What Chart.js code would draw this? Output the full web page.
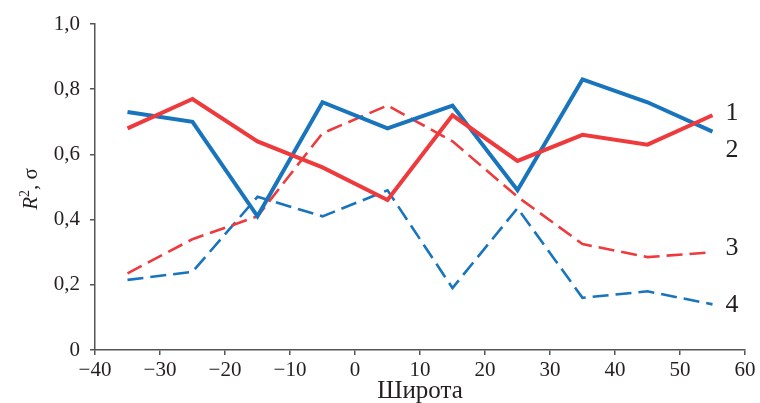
<!DOCTYPE html>
<html>
<head>
<meta charset="utf-8">
<script src="https://cdn.jsdelivr.net/npm/chart.js@4/dist/chart.umd.min.js"></script>
<style>
  html, body { margin: 0; padding: 0; background: #fff; }
  #wrap { width: 760px; height: 403px; }
</style>
</head>
<body>
<div id="wrap"><canvas id="myChart" width="760" height="403"></canvas></div>
<script>
// latitude of each point
const latitudes = [-35, -25, -15, -5, 5, 15, 25, 35, 45, 55];

// 1 - red solid, 2 - blue solid, 3 - red dashed, 4 - blue dashed
const series1 = [0.68, 0.77, 0.64, 0.56, 0.46, 0.72, 0.58, 0.66, 0.63, 0.72];
const series2 = [0.73, 0.70, 0.41, 0.76, 0.68, 0.75, 0.49, 0.83, 0.76, 0.67];
const series3 = [0.235, 0.34, 0.41, 0.665, 0.75, 0.64, 0.47, 0.325, 0.285, 0.30];
const series4 = [0.215, 0.24, 0.47, 0.41, 0.49, 0.19, 0.435, 0.16, 0.18, 0.14];

// curve numbers printed at the right end
const curveNames = ['1', '2', '3', '4'];
const curveNameX = [58, 58, 58, 58];
const curveNameY = [0.727, 0.613, 0.313, 0.138];

const RED = '#ee3a3c';
const BLUE = '#1874bc';
const AXIS = '#555555';
const TEXT = '#231f20';
const SERIF = '"Liberation Serif", "DejaVu Serif", serif';

const toPoints = vals => vals.map((v, i) => ({ x: latitudes[i], y: v }));

const annotations = {
  id: 'annotations',
  afterDraw(chart) {
    const ctx = chart.ctx;
    const xs = chart.scales.x, ys = chart.scales.y;
    ctx.save();
    ctx.fillStyle = TEXT;
    ctx.font = '26px ' + SERIF;
    ctx.textAlign = 'center';
    ctx.textBaseline = 'middle';
    curveNames.forEach((t, i) => {
      ctx.fillText(t, xs.getPixelForValue(curveNameX[i]), ys.getPixelForValue(curveNameY[i]));
    });

    // y axis title: R^2, σ
    ctx.translate(37, 189);
    ctx.rotate(-Math.PI / 2);
    ctx.textAlign = 'left';
    ctx.textBaseline = 'alphabetic';
    const fMain = '21px ' + SERIF, fItal = 'italic 21px ' + SERIF, fSup = '14px ' + SERIF;
    ctx.font = fItal; const wR = ctx.measureText('R').width;
    ctx.font = fSup; const w2 = ctx.measureText('2').width;
    ctx.font = fMain; const wRest = ctx.measureText(', σ').width;
    let x0 = -(wR + w2 + wRest) / 2;
    ctx.font = fItal; ctx.fillText('R', x0, 0); x0 += wR;
    ctx.font = fSup; ctx.fillText('2', x0, -8); x0 += w2;
    ctx.font = fMain; ctx.fillText(', σ', x0, 0);
    ctx.restore();
  }
};

new Chart(document.getElementById('myChart').getContext('2d'), {
  type: 'line',
  data: {
    datasets: [
      { label: '1', data: toPoints(series1), borderColor: RED, borderWidth: 4 },
      { label: '2', data: toPoints(series2), borderColor: BLUE, borderWidth: 4 },
      { label: '3', data: toPoints(series3), borderColor: RED, borderWidth: 2.6, borderDash: [16, 7] },
      { label: '4', data: toPoints(series4), borderColor: BLUE, borderWidth: 2.6, borderDash: [16, 7] }
    ]
  },
  options: {
    responsive: false,
    animation: false,
    layout: { padding: { top: 24, right: 15, left: 0, bottom: 0 } },
    elements: {
      point: { radius: 0 },
      line: { tension: 0, borderJoinStyle: 'miter', borderCapStyle: 'butt', fill: false }
    },
    plugins: { legend: { display: false }, tooltip: { enabled: false } },
    scales: {
      x: {
        type: 'linear',
        min: -40, max: 60,
        afterFit(scale) { scale.height = 53; },
        grid: { drawOnChartArea: false, drawTicks: true, tickLength: 5, color: AXIS, lineWidth: 1.5 },
        border: { display: true, color: AXIS, width: 1.5 },
        ticks: {
          stepSize: 10,
          padding: 3,
          color: TEXT,
          font: { family: SERIF, size: 21 },
          maxRotation: 0,
          callback: v => v < 0 ? '\u2212' + Math.abs(v) : String(v)
        },
        title: {
          display: true,
          text: 'Широта',
          color: TEXT,
          font: { family: SERIF, size: 25, lineHeight: 1 },
          padding: { top: 0, bottom: -1 }
        }
      },
      y: {
        min: 0, max: 1,
        afterFit(scale) { scale.width = 95; },
        grid: { drawOnChartArea: false, drawTicks: true, tickLength: 5, color: AXIS, lineWidth: 1.5 },
        border: { display: true, color: AXIS, width: 1.5 },
        ticks: {
          stepSize: 0.2,
          padding: 10,
          color: TEXT,
          font: { family: SERIF, size: 21 },
          callback: v => {
            const r = Math.round(v * 10) / 10;
            return r === 0 ? '0' : r.toFixed(1).replace('.', ',');
          }
        }
      }
    }
  },
  plugins: [annotations]
});
</script>
</body>
</html>
